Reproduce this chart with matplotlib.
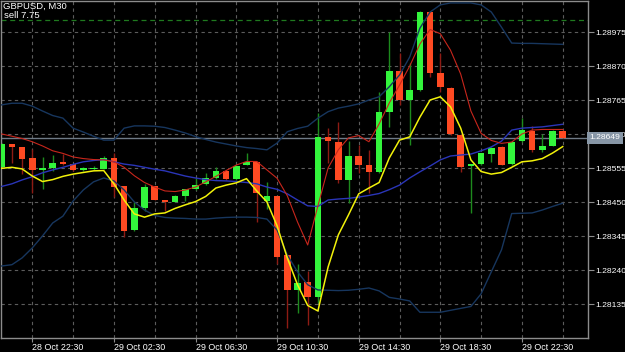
import numpy as np
import matplotlib.pyplot as plt
from matplotlib.ticker import FixedLocator

plt.rcParams['font.family'] = ['Liberation Sans', 'DejaVu Sans']

# GBPUSD M30, bars from 28 Oct 21:00 to 30 Oct 00:30
opens = [1.28558, 1.28629, 1.28620, 1.28588, 1.28551, 1.28557, 1.28574, 1.28568,
         1.28550, 1.28552, 1.28554, 1.28587, 1.28499, 1.28364, 1.28433, 1.28499,
         1.28457, 1.28452, 1.28469, 1.28490, 1.28506, 1.28526, 1.28547, 1.28521,
         1.28566, 1.28574, 1.28454, 1.28468, 1.28287, 1.28179, 1.28202, 1.28158,
         1.28653, 1.28637, 1.28519, 1.28594, 1.28566, 1.28544, 1.28730, 1.28855,
         1.28766, 1.28797, 1.29039, 1.28848, 1.28803, 1.28658, 1.28561, 1.28568,
         1.28598, 1.28622, 1.28567, 1.28639, 1.28671, 1.28612, 1.28625, 1.28670]
highs = [1.28632, 1.28630, 1.28621, 1.28616, 1.28589, 1.28595, 1.28600, 1.28569,
         1.28560, 1.28562, 1.28593, 1.28603, 1.28500, 1.28451, 1.28506, 1.28500,
         1.28458, 1.28471, 1.28492, 1.28525, 1.28540, 1.28560, 1.28549, 1.28563,
         1.28601, 1.28576, 1.28513, 1.28470, 1.28290, 1.28259, 1.28236, 1.28727,
         1.28679, 1.28698, 1.28638, 1.28627, 1.28611, 1.28792, 1.28975, 1.28910,
         1.28879, 1.29040, 1.29040, 1.28910, 1.28805, 1.28660, 1.28568, 1.28603,
         1.28621, 1.28624, 1.28640, 1.28709, 1.28686, 1.28660, 1.28672, 1.28672]
lows = [1.28555, 1.28572, 1.28537, 1.28480, 1.28492, 1.28547, 1.28564, 1.28548,
        1.28548, 1.28549, 1.28552, 1.28467, 1.28344, 1.28362, 1.28424, 1.28456,
        1.28423, 1.28450, 1.28454, 1.28488, 1.28504, 1.28522, 1.28519, 1.28519,
        1.28564, 1.28390, 1.28430, 1.28259, 1.28061, 1.28107, 1.28071, 1.28140,
        1.28571, 1.28510, 1.28447, 1.28540, 1.28478, 1.28540, 1.28683, 1.28750,
        1.28627, 1.28795, 1.28836, 1.28792, 1.28658, 1.28543, 1.28416, 1.28566,
        1.28575, 1.28564, 1.28565, 1.28637, 1.28604, 1.28604, 1.28623, 1.28648]
closes = [1.28630, 1.28621, 1.28584, 1.28551, 1.28556, 1.28572, 1.28569, 1.28549,
          1.28556, 1.28556, 1.28587, 1.28498, 1.28361, 1.28433, 1.28497, 1.28457,
          1.28451, 1.28469, 1.28490, 1.28503, 1.28524, 1.28546, 1.28521, 1.28561,
          1.28574, 1.28480, 1.28468, 1.28280, 1.28179, 1.28199, 1.28158, 1.28653,
          1.28638, 1.28519, 1.28594, 1.28566, 1.28544, 1.28728, 1.28855, 1.28766,
          1.28797, 1.29039, 1.28848, 1.28805, 1.28660, 1.28560, 1.28567, 1.28601,
          1.28619, 1.28566, 1.28637, 1.28673, 1.28611, 1.28625, 1.28670, 1.28649]

# bollinger bands
upper_band = [1.28751, 1.28756, 1.28756, 1.28747, 1.28732, 1.28718, 1.28710, 1.28679,
              1.28667, 1.28654, 1.28642, 1.28642, 1.28679, 1.28686, 1.28686, 1.28685,
              1.28681, 1.28673, 1.28664, 1.28653, 1.28644, 1.28636, 1.28630, 1.28624,
              1.28619, 1.28616, 1.28612, 1.28633, 1.28668, 1.28678, 1.28685, 1.28710,
              1.28730, 1.28741, 1.28747, 1.28754, 1.28766, 1.28776, 1.28807, 1.28843,
              1.28899, 1.28988, 1.29038, 1.29060, 1.29066, 1.29066, 1.29066, 1.29060,
              1.29038, 1.28991, 1.28942, 1.28941, 1.28941, 1.28940, 1.28939, 1.28938]
middle_band = [1.28499, 1.28507, 1.28519, 1.28529, 1.28541, 1.28550, 1.28558, 1.28567,
               1.28575, 1.28579, 1.28582, 1.28575, 1.28568, 1.28564, 1.28558, 1.28552,
               1.28547, 1.28539, 1.28531, 1.28525, 1.28520, 1.28517, 1.28516, 1.28514,
               1.28511, 1.28507, 1.28497, 1.28490, 1.28476, 1.28457, 1.28439, 1.28437,
               1.28457, 1.28460, 1.28462, 1.28466, 1.28471, 1.28477, 1.28489, 1.28503,
               1.28525, 1.28544, 1.28562, 1.28581, 1.28593, 1.28596, 1.28599, 1.28609,
               1.28621, 1.28639, 1.28673, 1.28679, 1.28681, 1.28683, 1.28687, 1.28691]
lower_band = [1.28253, 1.28257, 1.28278, 1.28309, 1.28346, 1.28386, 1.28407, 1.28454,
              1.28488, 1.28513, 1.28525, 1.28516, 1.28488, 1.28451, 1.28426, 1.28409,
              1.28403, 1.28401, 1.28400, 1.28398, 1.28398, 1.28401, 1.28403, 1.28404,
              1.28404, 1.28403, 1.28398, 1.28364, 1.28287, 1.28235, 1.28195, 1.28179,
              1.28178, 1.28177, 1.28178, 1.28181, 1.28185, 1.28176, 1.28156, 1.28151,
              1.28145, 1.28110, 1.28110, 1.28110, 1.28116, 1.28122, 1.28128, 1.28167,
              1.28235, 1.28303, 1.28415, 1.28416, 1.28417, 1.28426, 1.28437, 1.28447]

# moving averages
red_ma = [1.28661, 1.28654, 1.28647, 1.28637, 1.28624, 1.28609, 1.28601, 1.28590,
          1.28585, 1.28582, 1.28581, 1.28575, 1.28558, 1.28532, 1.28511, 1.28497,
          1.28485, 1.28483, 1.28488, 1.28497, 1.28513, 1.28530, 1.28548, 1.28565,
          1.28576, 1.28576, 1.28550, 1.28524, 1.28470, 1.28389, 1.28318, 1.28439,
          1.28556, 1.28612, 1.28649, 1.28656, 1.28637, 1.28692, 1.28757, 1.28812,
          1.28871, 1.28939, 1.28984, 1.28971, 1.28920, 1.28846, 1.28732, 1.28663,
          1.28641, 1.28632, 1.28636, 1.28661, 1.28673, 1.28675, 1.28675, 1.28675]
yellow_ma = [1.28555, 1.28558, 1.28553, 1.28531, 1.28514, 1.28520, 1.28530, 1.28537,
             1.28542, 1.28547, 1.28548, 1.28507, 1.28457, 1.28414, 1.28404, 1.28414,
             1.28417, 1.28431, 1.28442, 1.28452, 1.28468, 1.28494, 1.28503, 1.28510,
             1.28523, 1.28485, 1.28451, 1.28377, 1.28278, 1.28195, 1.28131, 1.28114,
             1.28250, 1.28349, 1.28411, 1.28476, 1.28494, 1.28511, 1.28587, 1.28642,
             1.28652, 1.28713, 1.28766, 1.28776, 1.28745, 1.28679, 1.28581, 1.28545,
             1.28537, 1.28542, 1.28558, 1.28575, 1.28578, 1.28585, 1.28602, 1.28622]

price_ticks = [1.28975, 1.28870, 1.28765, 1.28660, 1.28555, 1.28450, 1.28345, 1.28240, 1.28135]
time_labels = ['28 Oct 22:30', '29 Oct 02:30', '29 Oct 06:30', '29 Oct 10:30',
               '29 Oct 14:30', '29 Oct 18:30', '29 Oct 22:30']
label_bars = [3, 11, 19, 27, 35, 43, 51]
current_price = 1.28649
green_level = 1.29012

BULL = '#33f53c'
BEAR = '#ff4a22'
BULL_WICK = '#1d8a1d'
BEAR_WICK = '#8e1b14'
GRID = '#5c5c5c'
FRAME = '#8c8c8c'
FS = 6.1

x = np.arange(len(opens))

fig = plt.figure(figsize=(6.25, 3.52), dpi=100, facecolor='black')
ax = fig.add_axes([1 / 625, 14.5 / 352, 587 / 625, 336.5 / 352])
ax.set_facecolor('black')

# candles: wicks first, bodies on top
for i in x:
    o, h, l, c = opens[i], highs[i], lows[i], closes[i]
    up = c >= o
    ax.vlines(i, l, h, color=BULL_WICK if up else BEAR_WICK, linewidth=1, zorder=2)
    body = max(abs(c - o), 0.00004)
    ax.bar(i, body, bottom=min(o, c), width=0.66, color=BULL if up else BEAR,
           linewidth=0, zorder=3)

# indicators
ax.plot(x, upper_band, color='#17365e', linewidth=1, zorder=4)
ax.plot(x, lower_band, color='#17365e', linewidth=1, zorder=4)
ax.plot(x, middle_band, color='#2a35b8', linewidth=1, zorder=4)
ax.plot(x, red_ma, color='#c8261c', linewidth=0.8, zorder=5)
ax.plot(x, yellow_ma, color='#f2f20a', linewidth=1.1, zorder=6)

# price levels
ax.axhline(current_price, color='#6f7a86', linewidth=1, zorder=1.5)
ax.axhline(green_level, color='#1f7a1f', linewidth=0.9, linestyle=(0, (4, 3)), zorder=1.5)

ax.set_xlim(-0.07, 57.48)
ax.set_ylim(1.28032, 1.29072)

# axes, ticks and grid
ax.yaxis.tick_right()
ax.set_yticks(price_ticks)
ax.set_yticklabels([f'{p:.5f}' for p in price_ticks])
ax.set_xticks(label_bars)
ax.set_xticklabels(time_labels, ha='left')
ax.xaxis.set_minor_locator(FixedLocator(list(range(3, 58, 4))))
ax.tick_params(axis='y', colors=FRAME, labelcolor='white', labelsize=FS, length=4, width=0.8, pad=1)
ax.tick_params(axis='x', colors=FRAME, labelcolor='white', labelsize=6.4, length=3, width=0.8, pad=1)
ax.tick_params(axis='x', which='minor', length=0)
ax.grid(True, which='both', color=GRID, linestyle=(0, (3, 3)), linewidth=0.8, zorder=0)
ax.set_axisbelow(True)
for s in ax.spines.values():
    s.set_color(FRAME)
    s.set_linewidth(1)

# current price tag on the price scale
ax.text(1.003, current_price, f'{current_price:.5f}', transform=ax.get_yaxis_transform(),
        ha='left', va='center', fontsize=FS, color='white', zorder=10, clip_on=False,
        bbox=dict(boxstyle='square,pad=0.3', facecolor='#8796a6', edgecolor='none'))

# symbol info
fig.text(3 / 625, 1 - 2 / 352, 'GBPUSD, M30', color='white', fontsize=6.8, ha='left', va='top')
fig.text(4 / 625, 1 - 11 / 352, 'sell 7.75', color='white', fontsize=6.8, ha='left', va='top')

fig.savefig('out.png', dpi=100, facecolor='black')
